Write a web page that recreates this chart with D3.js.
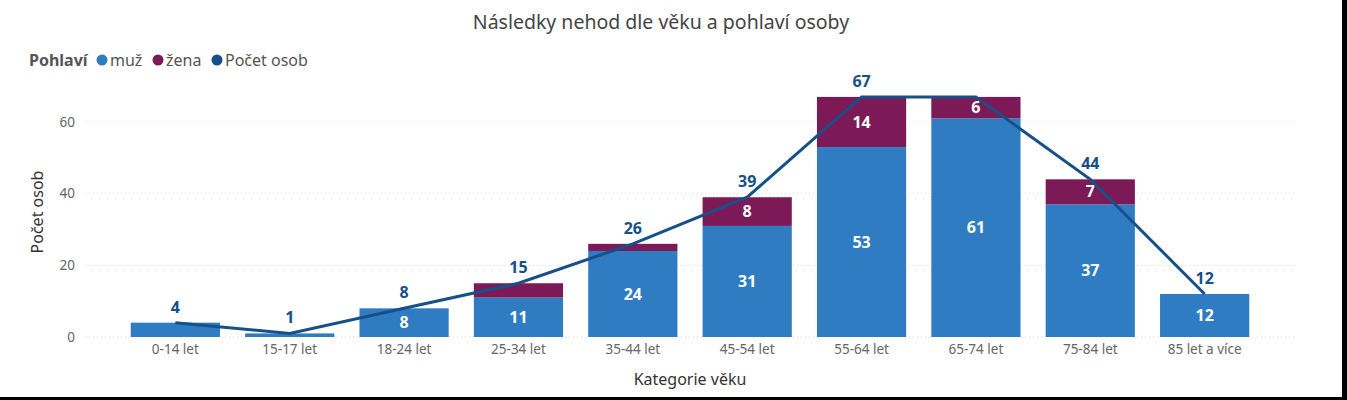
<!DOCTYPE html>
<html>
<head>
<meta charset="utf-8">
<script src="https://cdn.jsdelivr.net/npm/d3@7"></script>
<style>
  body { margin: 0; background: #fff; }
  svg { display: block; font-family: "Segoe UI", "Noto Sans", sans-serif; }
</style>
</head>
<body>
<div id="chart"></div>
<script>
// data
const categories = ["0-14 let", "15-17 let", "18-24 let", "25-34 let", "35-44 let",
                    "45-54 let", "55-64 let", "65-74 let", "75-84 let", "85 let a více"];
const muz  = [4, 1, 8, 11, 24, 31, 53, 61, 37, 12];
const zena = [0, 0, 0, 4, 2, 8, 14, 6, 7, 0];
const pocetOsob = [4, 1, 8, 15, 26, 39, 67, 67, 44, 12];
const yTicks = [0, 20, 40, 60];

const colMuz = "#2f7cc2", colZena = "#7c1a57", colLine = "#174f88";

const W = 1347, H = 400;
const svg = d3.select("#chart").append("svg").attr("width", W).attr("height", H);

const x = d3.scaleBand().domain(categories).range([85, 1295])
            .paddingInner(0.22).paddingOuter(0.4);
const y = d3.scaleLinear().domain([0, 60]).range([337, 122]);

// grid
svg.append("g").selectAll("line").data(yTicks).enter().append("line")
   .attr("x1", 85).attr("x2", 1295)
   .attr("y1", d => y(d)).attr("y2", d => y(d))
   .attr("stroke", "#d6d6d6").attr("stroke-dasharray", "1,3");

// y axis
const yAxis = d3.axisLeft(y).tickValues(yTicks).tickSize(0).tickPadding(0);
const yG = svg.append("g").attr("transform", "translate(75,0)").call(yAxis);
yG.select(".domain").remove();
yG.selectAll("text").style("font-size", "13.5px").style("fill", "#666")
   .style("font-family", "'Segoe UI', 'Noto Sans', sans-serif");

// x axis
const xAxis = d3.axisBottom(x).tickSize(0).tickPadding(0);
const xG = svg.append("g").attr("transform", "translate(0,344)").call(xAxis);
xG.select(".domain").remove();
xG.selectAll("text").style("font-size", "13.5px").style("fill", "#666")
   .style("font-family", "'Segoe UI', 'Noto Sans', sans-serif");

// stacked bars
const rows = categories.map((c, i) => ({cat: c, muz: muz[i], zena: zena[i]}));
const stack = d3.stack().keys(["muz", "zena"])(rows);
const colors = {muz: colMuz, zena: colZena};

stack.forEach(layer => {
  const g = svg.append("g");
  g.selectAll("rect").data(layer).enter().append("rect")
   .attr("x", d => x(d.data.cat))
   .attr("y", d => y(d[1]))
   .attr("width", x.bandwidth())
   .attr("height", d => y(d[0]) - y(d[1]))
   .attr("fill", colors[layer.key]);
  g.selectAll("text").data(layer.filter(d => d[1] - d[0] >= 5)).enter().append("text")
   .attr("x", d => x(d.data.cat) + x.bandwidth() / 2)
   .attr("y", d => (y(d[0]) + y(d[1])) / 2)
   .attr("dy", "0.35em")
   .attr("text-anchor", "middle")
   .style("font-size", "16px").style("font-weight", "bold").style("fill", "#fff")
   .text(d => d[1] - d[0]);
});

// line
const cx = c => x(c) + x.bandwidth() / 2;
const line = d3.line().x((d, i) => cx(categories[i])).y(d => y(d));
svg.append("path").datum(pocetOsob)
   .attr("d", line).attr("fill", "none")
   .attr("stroke", colLine).attr("stroke-width", 3);

// line labels (duplicate neighbour label hidden)
svg.append("g").selectAll("text")
   .data(pocetOsob.map((v, i) => ({v, i})).filter(d => d.i === 0 || pocetOsob[d.i - 1] !== d.v))
   .enter().append("text")
   .attr("x", d => cx(categories[d.i]))
   .attr("y", d => y(d.v) - 10)
   .attr("text-anchor", "middle")
   .style("font-size", "16px").style("font-weight", "bold").style("fill", colLine)
   .text(d => d.v);

// title
svg.append("text").attr("x", 661).attr("y", 29).attr("text-anchor", "middle")
   .style("font-size", "19.5px").style("fill", "#444")
   .text("Následky nehod dle věku a pohlaví osoby");

// legend
const leg = svg.append("g").attr("transform", "translate(29,66)");
leg.append("text").text("Pohlaví").style("font-size", "16px")
   .style("font-weight", "bold").style("fill", "#555");
const items = [{t: "muž", c: colMuz, x: 73}, {t: "žena", c: colZena, x: 129}, {t: "Počet osob", c: colLine, x: 188}];
items.forEach(it => {
  leg.append("circle").attr("cx", it.x).attr("cy", -6).attr("r", 5.5).attr("fill", it.c);
  leg.append("text").attr("x", it.x + 8).text(it.t)
     .style("font-size", "16px").style("fill", "#555");
});

// axis titles
svg.append("text").attr("transform", "translate(43,212) rotate(-90)")
   .attr("text-anchor", "middle").style("font-size", "16px").style("fill", "#333")
   .text("Počet osob");
svg.append("text").attr("x", 690).attr("y", 385).attr("text-anchor", "middle")
   .style("font-size", "16px").style("fill", "#333")
   .text("Kategorie věku");

// frame edges
svg.append("rect").attr("x", 1342).attr("y", 0).attr("width", 5).attr("height", H).attr("fill", "#000");
svg.append("rect").attr("x", 0).attr("y", 397).attr("width", W).attr("height", 3).attr("fill", "#000");
</script>
</body>
</html>
